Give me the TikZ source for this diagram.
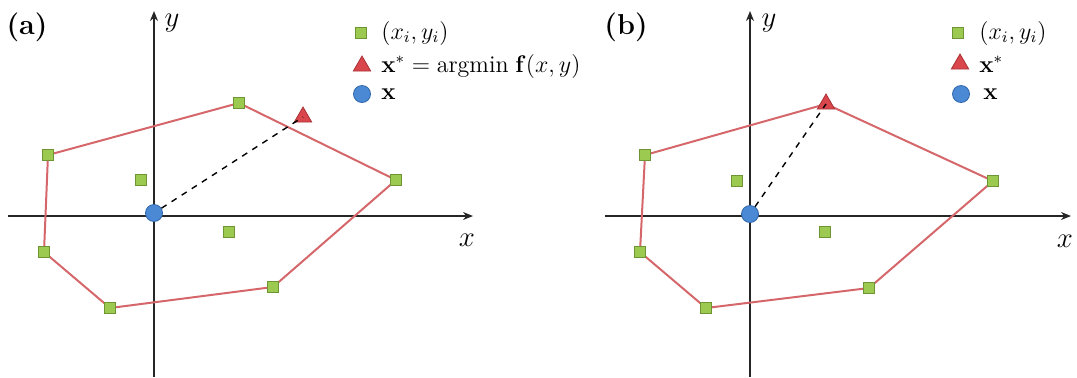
\documentclass[tikz,border=0pt]{standalone}
\usepackage{amsmath,amssymb}
\usepackage{xcolor}
\usetikzlibrary{arrows.meta,shapes.geometric}
\definecolor{Pt}{HTML}{9CC94F}
\definecolor{PtEdge}{HTML}{6F9433}
\definecolor{Tri}{HTML}{D9464B}
\definecolor{TriEdge}{HTML}{A83236}
\definecolor{Org}{HTML}{4B89D5}
\definecolor{OrgEdge}{HTML}{2F66AA}
\definecolor{Hull}{HTML}{D5676B}

\begin{document}
\begin{tikzpicture}[x=0.5pt,y=-0.5pt,>={Stealth[length=5pt,width=4pt]},font=\large]
  \tikzstyle{sq}=[draw=PtEdge,fill=Pt,line width=0.4pt,minimum size=5.5pt,inner sep=0pt]
  \tikzstyle{tri}=[draw=TriEdge,fill=Tri,line width=0.4pt,regular polygon,regular polygon sides=3,minimum size=10pt,inner sep=0pt]
  \tikzstyle{org}=[draw=OrgEdge,fill=Org,line width=0.4pt,circle,minimum size=8.5pt,inner sep=0pt]
  \tikzstyle{axis}=[->,line width=0.8pt,black!85]
  \tikzstyle{hull}=[draw=Hull,line width=1pt,line join=round]
  \tikzstyle{leg}=[anchor=west,inner sep=0pt]
  \useasboundingbox (0,0) rectangle (1077,377);

  % (a) nearest point outside the hull
  \node[font=\Large\bfseries] (tagA) at (27,27) {(a)};
  \coordinate (aYlo) at (154,377);
  \coordinate (aYhi) at (154,11);
  \coordinate (aXlo) at (8,216);
  \coordinate (aXhi) at (473,216);
  \draw[axis] (aYlo) -- (aYhi);
  \draw[axis] (aXlo) -- (aXhi);
  \node[font=\Large] (aYlab) at (172,23) {$y$};
  \node[font=\Large] (aXlab) at (467,240) {$x$};
  \coordinate (a1) at (48,155);
  \coordinate (a2) at (239,103);
  \coordinate (a3) at (396,180);
  \coordinate (a4) at (273,287);
  \coordinate (a5) at (110,308);
  \coordinate (a6) at (44,252);
  \draw[hull] (a1) -- (a2) -- (a3) -- (a4) -- (a5) -- (a6) -- cycle;
  \node[tri] (aStar) at (303,117) {};
  \node[org] (aX) at (154,213) {};
  \draw[dashed,line width=0.7pt] (aX) -- (aStar.center);
  \foreach \p in {a1,a2,a3,a4,a5,a6}
    \node[sq] at (\p) {};
  \node[sq] (aIn1) at (141,180) {};
  \node[sq] (aIn2) at (229,232) {};
  \node[sq] (aLeg1) at (361,33) {};
  \node[tri] (aLeg2) at (362,66) {};
  \node[org] (aLeg3) at (362,94) {};
  \node[leg] (aTxt1) at (381,33) {$(x_i, y_i)$};
  \node[leg] (aTxt2) at (381,66) {$\mathbf{x}^{*} = \text{argmin}\;\mathbf{f}(x,y)$};
  \node[leg] (aTxt3) at (381,94) {$\mathbf{x}$};

  % (b) nearest point is a hull vertex
  \node[font=\Large\bfseries] (tagB) at (626,27) {(b)};
  \coordinate (bYlo) at (750,377);
  \coordinate (bYhi) at (750,11);
  \coordinate (bXlo) at (605,216);
  \coordinate (bXhi) at (1071,216);
  \draw[axis] (bYlo) -- (bYhi);
  \draw[axis] (bXlo) -- (bXhi);
  \node[font=\Large] (bYlab) at (769,23) {$y$};
  \node[font=\Large] (bXlab) at (1065,241) {$x$};
  \coordinate (b1) at (645,155);
  \coordinate (b2) at (826,104);
  \coordinate (b3) at (993,181);
  \coordinate (b4) at (869,288);
  \coordinate (b5) at (706,308);
  \coordinate (b6) at (640,252);
  \draw[hull] (b1) -- (b2) -- (b3) -- (b4) -- (b5) -- (b6) -- cycle;
  \node[org] (bX) at (750,214) {};
  \node[tri] (bStar) at (826,104) {};
  \draw[dashed,line width=0.7pt] (bX) -- (bStar.center);
  \foreach \p in {b1,b3,b4,b5,b6}
    \node[sq] at (\p) {};
  \node[sq] (bIn1) at (737,181) {};
  \node[sq] (bIn2) at (825,232) {};
  \node[sq] (bLeg1) at (958,33) {};
  \node[tri] (bLeg2) at (960,64) {};
  \node[org] (bLeg3) at (961,94) {};
  \node[leg] (bTxt1) at (979,33) {$(x_i, y_i)$};
  \node[leg] (bTxt2) at (979,64) {$\mathbf{x}^{*}$};
  \node[leg] (bTxt3) at (983,94) {$\mathbf{x}$};
\end{tikzpicture}
\end{document}
